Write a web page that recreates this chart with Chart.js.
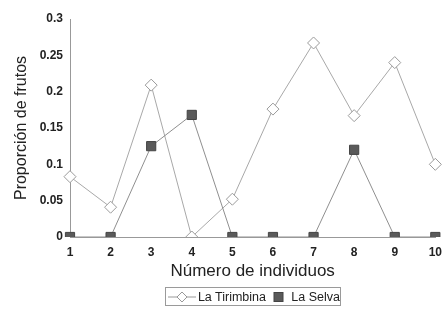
<!DOCTYPE html>
<html><head><meta charset="utf-8">
<script src="https://cdn.jsdelivr.net/npm/chart.js@4/dist/chart.umd.min.js"></script>
<style>
html,body{margin:0;padding:0;background:#fff;}
#wrap{position:relative;width:446px;height:322px;}
#legend{position:absolute;left:165px;top:287px;width:176px;height:19px;border:1px solid #9a9a9a;box-sizing:border-box;font-family:"Liberation Sans",Arial,sans-serif;font-size:12.5px;color:#222;display:flex;align-items:center;white-space:nowrap;}
#legend svg{display:block;}
</style></head>
<body><div id="wrap"><canvas id="c" width="446" height="322"></canvas>
<div id="legend">
<svg width="32" height="14"><line x1="2" y1="7" x2="30" y2="7" stroke="#999" stroke-width="1"/><polygon points="16,2 21,7 16,12 11,7" fill="#fff" stroke="#999" stroke-width="1"/></svg>
<span style="margin-left:1px">La Tirimbina</span>
<svg width="20" height="14" style="margin-left:3px"><rect x="5" y="2.5" width="9" height="9" fill="#5a5a5a" stroke="#444" stroke-width="1"/></svg>
<span style="margin-left:3px">La Selva</span>
</div></div>
<script>
const categories = ["1","2","3","4","5","6","7","8","9","10"];
const tirimbina = [0.083, 0.041, 0.209, 0, 0.052, 0.176, 0.267, 0.167, 0.24, 0.1];
const laSelva = [0, 0, 0.125, 0.168, 0, 0, 0, 0.12, 0, 0];
const yTicks = [0, 0.05, 0.1, 0.15, 0.2, 0.25, 0.3];
const seriesNames = ["La Tirimbina", "La Selva"];

const font = "'Liberation Sans', Arial, sans-serif";
new Chart(document.getElementById('c'), {
  type: 'line',
  data: {
    labels: categories,
    datasets: [
      { label: seriesNames[1], data: laSelva, borderColor: '#8f8f8f', borderWidth: 1,
        pointStyle: 'rect', pointRadius: 6.5, pointBackgroundColor: '#5a5a5a', pointBorderColor: '#444', pointBorderWidth: 1, tension: 0 },
      { label: seriesNames[0], data: tirimbina, borderColor: '#a8a8a8', borderWidth: 1,
        pointStyle: 'rectRot', pointRadius: 6, pointBackgroundColor: '#fff', pointBorderColor: '#9a9a9a', pointBorderWidth: 1, tension: 0 }
    ]
  },
  options: {
    responsive: false, animation: false,
    layout: { padding: { left: 12, right: 7, top: 19, bottom: 40 } },
    plugins: { legend: { display: false }, tooltip: { enabled: false } },
    scales: {
      x: {
        offset: false,
        grid: { display: false, drawTicks: true, tickLength: 4, color: '#999' },
        border: { display: true, color: '#999', width: 1 },
        ticks: { color: '#222', font: { family: font, size: 12, weight: 'bold' }, padding: 4, maxRotation: 0 },
        title: { display: true, text: 'Número de individuos', color: '#222', font: { family: font, size: 17 }, padding: { top: 0, bottom: 0 } },
        afterFit: s => { s.height = 45; }
      },
      y: {
        min: 0, max: 0.3,
        afterBuildTicks: s => { s.ticks = yTicks.map(v => ({ value: v })); },
        grid: { display: false, drawTicks: true, tickLength: 5, color: '#999' },
        border: { display: true, color: '#999', width: 1 },
        ticks: { color: '#222', font: { family: font, size: 12, weight: 'bold' }, padding: 2,
          callback: v => String(v) },
        title: { display: true, text: 'Proporción de frutos', color: '#222', font: { family: font, size: 16 }, padding: { top: 0, bottom: 4 } },
        afterFit: s => { s.width = 58; }
      }
    }
  }
});
</script></body></html>
